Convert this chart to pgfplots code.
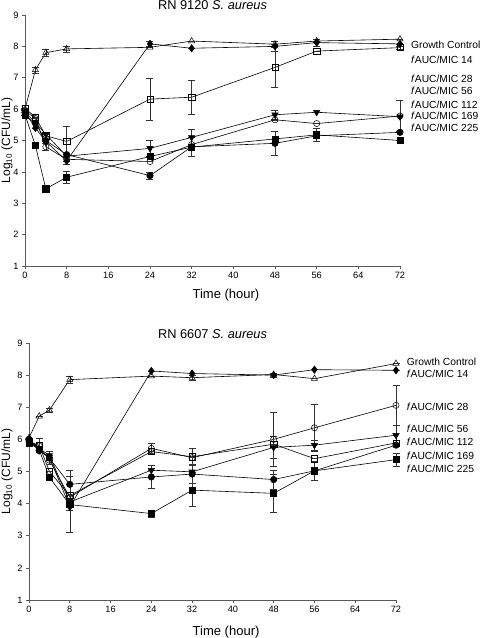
\documentclass[border=0pt]{standalone}
\usepackage{pgfplots}
\pgfplotsset{compat=1.18}
\usepackage{fontspec}
\setmainfont{Liberation Sans}
\tikzset{lab/.style={anchor=west, font=\fontsize{10.3}{12}\selectfont, inner sep=0pt}}
\begin{document}
\begin{tikzpicture}
\useasboundingbox (0,0) rectangle (480pt,638pt);
\pgfplotsset{
  every axis title/.style={at={(0.5,1)}, anchor=base, inner sep=0pt, font=\fontsize{12.8}{15}\selectfont},
  every axis/.append style={
    scale only axis, xmin=0, xmax=72, ymin=1, ymax=9,
    axis lines=left, axis line style={-, gray!70!black, line width=0.7pt},
    xtick={0,8,...,72}, ytick={1,...,9},
    tick align=outside, major tick length=3pt,
    tick style={gray!70!black, line width=0.6pt},
    /pgf/number format/assume math mode=true,
    tick label style={font=\fontsize{9.2}{11}\selectfont},
    xlabel style={font=\fontsize{13}{15}\selectfont, anchor=center},
    ylabel style={font=\fontsize{12}{14}\selectfont, anchor=center},
    xlabel={Time (hour)},
    ylabel={Log\textsubscript{10} (CFU/mL)},
    clip=false,
    error bars/y dir=both, error bars/y explicit,
    error bars/error bar style={black!80, line width=0.5pt},
    error bars/error mark options={rotate=90, mark size=3.5pt, black!80, line width=0.5pt},
  },
  ser/.style={black, line width=0.6pt},
  gc/.style={ser, mark=triangle, mark size=3.6pt, mark options={fill=white, line width=0.5pt}},
  dia/.style={ser, mark=diamond*, mark size=3.6pt, mark options={fill=black}},
  osq/.style={ser, mark=square, mark size=3.1pt, mark options={fill=white, line width=0.5pt}},
  tdn/.style={ser, mark=triangle*, mark size=3.6pt, mark options={rotate=180, fill=black}},
  ocir/.style={ser, mark=o, mark size=3.1pt, mark options={fill=white, line width=0.5pt}},
  fcir/.style={ser, mark=*, mark size=3.2pt, mark options={fill=black}},
  fsq/.style={ser, mark=square*, mark size=3.1pt, mark options={fill=black}},
}
% ---------------- top panel ----------------
\begin{axis}[at={(25pt,372pt)}, anchor=south west, width=375pt, height=251pt,
  title={RN 9120 \textit{S. aureus}},
  title style={yshift=5.5pt},
  xlabel style={at={([yshift=-29pt]axis description cs:0.536,0)}},
  ylabel style={at={([xshift=-18pt]axis description cs:0,0.5)}}]
\addplot[gc] coordinates {(0,6.0) +- (0,0) (2,7.25) +- (0,0.1) (4,7.8) +- (0,0.1) (8,7.92) +- (0,0.1) (24,7.97) +- (0,0) (32,8.17) +- (0,0) (48,8.07) +- (0,0) (56,8.17) +- (0,0) (72,8.23) +- (0,0)};
\addplot[dia] coordinates {(0,5.9) +- (0,0) (2,5.4) +- (0,0) (4,4.97) +- (0,0) (8,4.35) +- (0,0) (24,8.08) +- (0,0.07) (32,7.94) +- (0,0) (48,8.0) +- (0,0.15) (56,8.12) +- (0,0.1) (72,8.08) +- (0,0)};
\addplot[osq] coordinates {(0,6.03) +- (0,0) (2,5.74) +- (0,0) (4,5.15) +- (0,0.1) (8,4.97) +- (0,0.48) (24,6.32) +- (0,0.68) (32,6.38) +- (0,0.55) (48,7.33) +- (0,0.63) (56,7.85) +- (0,0) (72,7.96) +- (0,0.05)};
\addplot[tdn] coordinates {(0,5.9) +- (0,0) (2,5.57) +- (0,0) (4,5.2) +- (0,0) (8,4.5) +- (0,0) (24,4.75) +- (0,0.27) (32,5.1) +- (0,0.27) (48,5.82) +- (0,0.15) (56,5.9) +- (0,0) (72,5.76) +- (0,0)};
\addplot[ocir] coordinates {(0,5.95) +- (0,0) (2,5.7) +- (0,0) (4,4.8) +- (0,0.12) (8,4.4) +- (0,0.15) (24,4.33) +- (0,0) (32,4.87) +- (0,0) (48,5.66) +- (0,0) (56,5.54) +- (0,0) (72,5.78) +- (0,0.5)};
\addplot[fcir] coordinates {(0,5.8) +- (0,0) (2,5.55) +- (0,0) (4,5.0) +- (0,0) (8,4.55) +- (0,0) (24,3.88) +- (0,0.12) (32,4.8) +- (0,0) (48,4.91) +- (0,0.37) (56,5.15) +- (0,0) (72,5.26) +- (0,0)};
\addplot[fsq] coordinates {(0,5.82) +- (0,0) (2,4.84) +- (0,0) (4,3.46) +- (0,0) (8,3.83) +- (0,0.2) (24,4.49) +- (0,0) (32,4.79) +- (0,0.3) (48,5.05) +- (0,0) (56,5.18) +- (0,0.2) (72,5.0) +- (0,0)};
\node[lab] at (axis cs:74.1,8.04) {Growth Control};
\node[lab] at (axis cs:74.1,7.56) {\textit{f}AUC/MIC 14};
\node[lab] at (axis cs:74.1,6.98) {\textit{f}AUC/MIC 28};
\node[lab] at (axis cs:74.1,6.58) {\textit{f}AUC/MIC 56};
\node[lab] at (axis cs:74.1,6.14) {\textit{f}AUC/MIC 112};
\node[lab] at (axis cs:74.1,5.78) {\textit{f}AUC/MIC 169};
\node[lab] at (axis cs:74.1,5.39) {\textit{f}AUC/MIC 225};
\end{axis}
% ---------------- bottom panel ----------------
\begin{axis}[at={(29pt,38pt)}, anchor=south west, width=367pt, height=257pt,
  title={RN 6607 \textit{S. aureus}},
  title style={yshift=4.5pt},
  xlabel style={at={([yshift=-32pt]axis description cs:0.537,0)}},
  ylabel style={at={([xshift=-22pt]axis description cs:0,0.5)}}]
\addplot[gc] coordinates {(0,6.05) +- (0,0) (2,6.72) +- (0,0) (4,6.91) +- (0,0.05) (8,7.86) +- (0,0.1) (24,7.97) +- (0,0) (32,7.92) +- (0,0.07) (48,8.02) +- (0,0) (56,7.89) +- (0,0) (72,8.36) +- (0,0)};
\addplot[dia] coordinates {(0,6.0) +- (0,0) (2,5.65) +- (0,0) (4,5.45) +- (0,0) (8,3.9) +- (0,0) (24,8.13) +- (0,0) (32,8.05) +- (0,0) (48,8.0) +- (0,0.06) (56,8.17) +- (0,0) (72,8.15) +- (0,0)};
\addplot[ocir] coordinates {(0,5.95) +- (0,0) (2,5.8) +- (0,0) (4,5.35) +- (0,0) (8,4.2) +- (0,0.4) (24,5.72) +- (0,0.15) (32,5.43) +- (0,0) (48,6.0) +- (0,0.85) (56,6.36) +- (0,0.72) (72,7.06) +- (0,0.62)};
\addplot[tdn] coordinates {(0,5.98) +- (0,0) (2,5.72) +- (0,0) (4,5.5) +- (0,0) (8,4.05) +- (0,0) (24,5.04) +- (0,0) (32,4.99) +- (0,0) (48,5.75) +- (0,0.35) (56,5.82) +- (0,0.15) (72,6.13) +- (0,0.3)};
\addplot[osq] coordinates {(0,5.87) +- (0,0) (2,5.82) +- (0,0.2) (4,5.0) +- (0,0) (8,4.25) +- (0,0) (24,5.62) +- (0,0) (32,5.46) +- (0,0.25) (48,5.85) +- (0,0) (56,5.4) +- (0,0) (72,5.89) +- (0,0)};
\addplot[fcir] coordinates {(0,6.0) +- (0,0) (2,5.65) +- (0,0) (4,5.42) +- (0,0.2) (8,4.6) +- (0,0.45) (24,4.83) +- (0,0.35) (32,4.92) +- (0,0.3) (48,4.75) +- (0,0.3) (56,5.02) +- (0,0) (72,5.82) +- (0,0)};
\addplot[fsq] coordinates {(0,5.9) +- (0,0) (2,5.68) +- (0,0) (4,4.82) +- (0,0) (8,3.97) +- (0,0.87) (24,3.69) +- (0,0.1) (32,4.42) +- (0,0.5) (48,4.32) +- (0,0.6) (56,5.02) +- (0,0.3) (72,5.37) +- (0,0.2)};
\node[lab] at (axis cs:74.1,8.41) {Growth Control};
\node[lab] at (axis cs:74.1,8.03) {\textit{f}AUC/MIC 14};
\node[lab] at (axis cs:74.1,7.0) {\textit{f}AUC/MIC 28};
\node[lab] at (axis cs:74.1,6.32) {\textit{f}AUC/MIC 56};
\node[lab] at (axis cs:74.1,5.91) {\textit{f}AUC/MIC 112};
\node[lab] at (axis cs:74.1,5.48) {\textit{f}AUC/MIC 169};
\node[lab] at (axis cs:74.1,5.07) {\textit{f}AUC/MIC 225};
\end{axis}
\end{tikzpicture}
\end{document}
